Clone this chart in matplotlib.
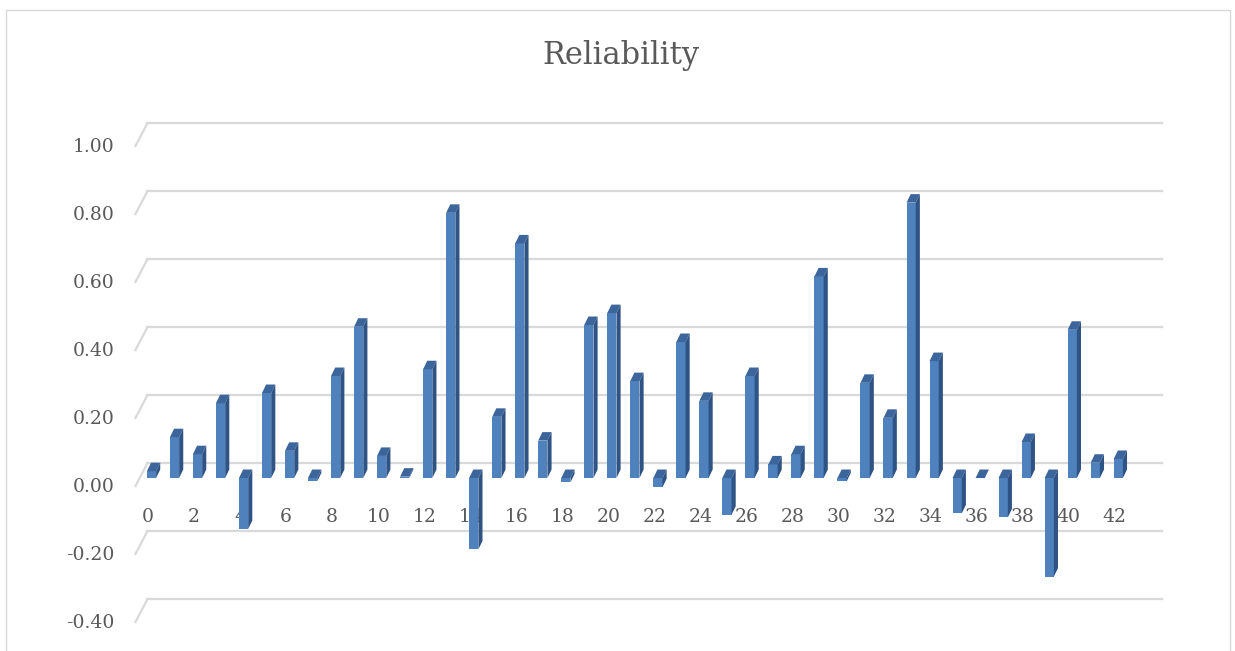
import numpy as np
import matplotlib.pyplot as plt
from matplotlib.patches import Polygon, Rectangle

## data
items = np.arange(43)
reliability = [0.02, 0.12, 0.07, 0.22, -0.15, 0.25, 0.08, -0.01, 0.30, 0.445,
               0.065, 0.004, 0.32, 0.78, -0.21, 0.18, 0.69, 0.11, -0.013, 0.45,
               0.485, 0.285, -0.027, 0.40, 0.227, -0.108, 0.30, 0.04, 0.07, 0.593,
               -0.01, 0.28, 0.177, 0.81, 0.344, -0.104, 0.0, -0.116, 0.106, -0.29,
               0.436, 0.045, 0.056]
y_ticks = [1.0, 0.8, 0.6, 0.4, 0.2, 0.0, -0.2, -0.4]
x_ticks = items[::2]

plt.rcParams['font.family'] = ['DejaVu Serif']
txt_color = '#595959'
grid_color = '#D9D9D9'

fig = plt.figure(figsize=(12.35, 6.51), dpi=100)
ax = fig.add_axes([0, 0, 1, 1])
ax.set_xlim(-6.581, 47.07)
ax.set_ylim(-0.5088, 1.406)
ax.axis('off')

# fake 3d geometry (data units)
w = 0.2                     # half width of the front face
dx, dy = 0.18, 0.025        # depth of a bar
back_x0, back_x1 = -0.174, 43.9
back_dy = 0.044             # back wall offset
front_x, front_dy = -0.695, -0.0235

# gridlines on the back wall + the slanted bit at the front
for v in y_ticks:
    ax.plot([back_x0, back_x1], [v + back_dy, v + back_dy], color=grid_color, lw=1.6, zorder=1)
    ax.plot([front_x, back_x0], [v + front_dy, v + back_dy], color=grid_color, lw=1.6, zorder=1)
    ax.text(-1.586, v + front_dy - 0.004, '%.2f' % v, ha='right', va='center',
            fontsize=13.5, color=txt_color, zorder=2)

# category labels
for i in x_ticks:
    ax.text(i - 0.15, -0.115, str(i), ha='center', va='center',
            fontsize=13.5, color=txt_color, zorder=2)

# bars
for i, v in zip(items, reliability):
    lo, hi = min(0, v), max(0, v)
    ax.add_patch(Rectangle((i - w, lo), 2 * w, hi - lo, fc='#4F81BD', ec='none', zorder=3))
    ax.add_patch(Polygon([(i - w, hi), (i + w, hi), (i + w + dx, hi + dy), (i - w + dx, hi + dy)],
                         closed=True, fc='#3C659B', ec='none', zorder=3))
    ax.add_patch(Polygon([(i + w, lo), (i + w + dx, lo + dy), (i + w + dx, hi + dy), (i + w, hi)],
                         closed=True, fc='#2F5384', ec='none', zorder=3))

fig.text(0.503, 0.9155, 'Reliability', ha='center', va='center', fontsize=22, color=txt_color)

# chart border
fig.patches.append(Rectangle((6 / 1235, -0.01), 1224 / 1235, 641 / 651 + 0.01,
                             transform=fig.transFigure, fill=False, ec=grid_color, lw=1))

fig.savefig('out.png', dpi=100)
